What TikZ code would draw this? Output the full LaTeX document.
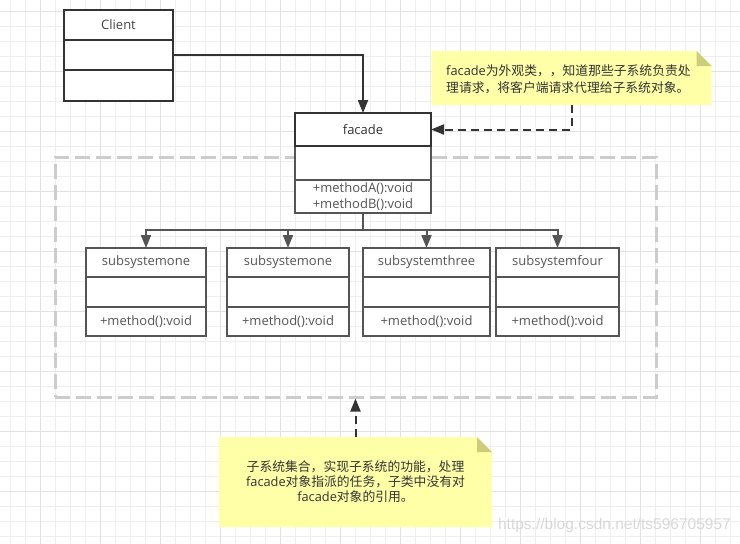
\documentclass[tikz,border=0pt]{standalone}
\usepackage{fontspec}
\setmainfont{Open Sans}
\newfontfamily\cjk{Noto Sans CJK SC}
\newfontfamily\wmfont{Liberation Sans}
\usetikzlibrary{positioning,calc,arrows.meta}
\definecolor{ink}{HTML}{333333}
\definecolor{inkb}{HTML}{555555}
\definecolor{txta}{HTML}{444444}
\definecolor{gridc}{HTML}{EEEEEE}
\definecolor{gridm}{HTML}{E2E2E2}
\definecolor{memofill}{HTML}{FFFFA8}
\definecolor{memofold}{HTML}{CCCC7A}
\definecolor{zonec}{HTML}{CCCCCC}
\definecolor{wmark}{HTML}{D8D8D8}

\begin{document}
\begin{tikzpicture}[x=1pt, y=-1pt,
      cpart/.style={rectangle, draw=ink, line width=2pt, fill=white, inner sep=0pt, outer sep=0pt, minimum width=#1, font=\fontsize{13}{16}\selectfont},
      subpart/.style={cpart=#1, draw=inkb, text=inkb, minimum height=30pt},
      link/.style={draw=ink, line width=2pt, -{Triangle[length=13pt, width=10pt]}},
      branch/.style={link, draw=inkb},
      hint/.style={link, dash pattern=on 8pt off 5pt},
      subsys/.style={rectangle, draw=zonec, line width=3pt, dash pattern=on 15pt off 6pt, inner sep=0pt, minimum width=601pt, minimum height=240pt},
      memo/.style={rectangle, inner sep=0pt, text=ink, font=\fontsize{12.8}{15}\selectfont,
        path picture={
          \fill[memofill] (path picture bounding box.south west) |- ($(path picture bounding box.north east)+(-15,0)$) -- ($(path picture bounding box.north east)+(0,15)$) |- cycle;
          \fill[memofold] ($(path picture bounding box.north east)+(-15,0)$) -- ($(path picture bounding box.north east)+(-15,15)$) -- ($(path picture bounding box.north east)+(0,15)$) -- cycle;
        }},
    ]
      \useasboundingbox (0,0) rectangle (740,544);
      \fill[white] (0,0) rectangle (740,544);
      \foreach \gx in {10,25,...,730} \draw[gridc, line width=1pt] (\gx,0) -- (\gx,544);
      \foreach \gy in {11.7,26.7,...,536.7} \draw[gridc, line width=1pt] (0,\gy) -- (740,\gy);
      \foreach \gx in {40,100,...,700} \draw[gridm, line width=1pt] (\gx,0) -- (\gx,544);
      \foreach \gy in {11.7,71.7,...,491.7} \draw[gridm, line width=1pt] (0,\gy) -- (740,\gy);

      \node[subsys] (subzone) at (355.5,277) {};

      \node[cpart=109pt, minimum height=30pt, text=txta] (clientHd) at (118.5,25) {Client};
      \node[cpart=109pt, minimum height=30pt, below=0pt of clientHd] (clientAt) {};
      \node[cpart=109pt, minimum height=31pt, below=0pt of clientAt] (clientOp) {};

      \node[cpart=136pt, minimum height=34pt, draw=inkb] (facadeAt) at (363,163) {};
      \node[cpart=136pt, minimum height=33pt, draw=inkb, text=inkb, align=center, below=0pt of facadeAt] (facadeOp) {+methodA():void\\+methodB():void};
      \node[cpart=136pt, minimum height=33pt, text=ink, above=0pt of facadeAt] (facadeHd) {facade};

      \node[subpart=120pt, minimum height=29pt] (sub1Hd) at (146,262.5) {subsystemone};
      \node[subpart=120pt, below=0pt of sub1Hd] (sub1At) {};
      \node[subpart=120pt, minimum height=29pt, below=0pt of sub1At] (sub1Op) {+method():void};

      \node[subpart=122pt, minimum height=29pt] (sub2Hd) at (288,262.5) {subsystemone};
      \node[subpart=122pt, below=0pt of sub2Hd] (sub2At) {};
      \node[subpart=122pt, minimum height=29pt, below=0pt of sub2At] (sub2Op) {+method():void};

      \node[subpart=127pt, minimum height=29pt] (sub3Hd) at (426.5,262.5) {subsystemthree};
      \node[subpart=127pt, below=0pt of sub3Hd] (sub3At) {};
      \node[subpart=127pt, minimum height=29pt, below=0pt of sub3At] (sub3Op) {+method():void};

      \node[subpart=123pt, minimum height=29pt] (sub4Hd) at (557.5,262.5) {subsystemfour};
      \node[subpart=123pt, below=0pt of sub4Hd] (sub4At) {};
      \node[subpart=123pt, minimum height=29pt, below=0pt of sub4At] (sub4Op) {+method():void};

      \node[memo, minimum width=280pt, minimum height=54pt, text width=251pt, align=left] (hint1) at (571.7,78)
        {\rule{0pt}{14pt}facade{\cjk 为外观类，，知道那些子系统负责处}\\[1.7pt]{\cjk 理请求，将客户端请求代理给子系统对象。}};
      \node[memo, minimum width=273pt, minimum height=90pt, align=center] (hint2) at (355.5,482)
        {{\cjk 子系统集合，实现子系统的功能，处理}\\facade{\cjk 对象指派的任务，子类中没有对}\\facade{\cjk 对象的引用。}};

      \node[text=wmark, font=\wmfont\fontsize{15.5}{16}\selectfont, anchor=east, inner sep=0pt] (wmark) at (731,525) {https://blog.csdn.net/ts596705957};

      \draw[link] (clientAt.east) -| (facadeHd.north);
      \draw[hint] (hint1.south) |- (facadeHd.east);
      \coordinate (fork) at (363,230);
      \draw[inkb, line width=2pt] (facadeOp.south) -- (fork);
      \draw[branch] (fork) -| (sub1Hd.north);
      \draw[branch] (fork) -| (sub2Hd.north);
      \draw[branch] (fork) -| (sub3Hd.north);
      \draw[branch] (fork) -| (sub4Hd.north);
      \draw[hint] (hint2.north) -- (subzone.south);
    \end{tikzpicture}
\end{document}
